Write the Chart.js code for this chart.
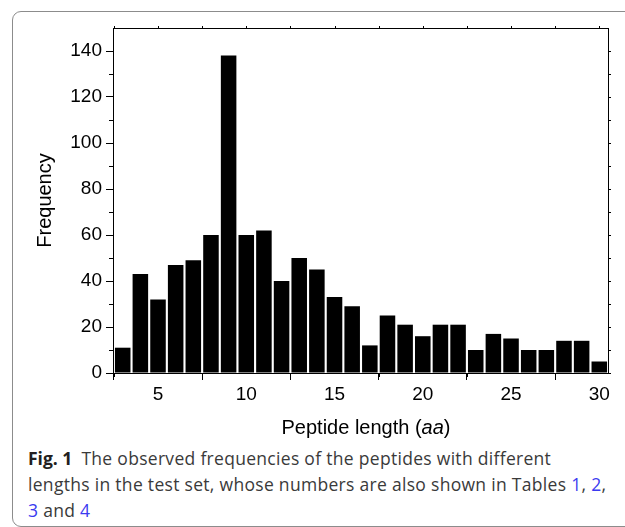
<!DOCTYPE html>
<html>
<head>
<meta charset="utf-8">
<script src="https://cdn.jsdelivr.net/npm/chart.js@4.4.1/dist/chart.umd.min.js"></script>
<style>
  html, body { margin: 0; padding: 0; background: #fff; width: 625px; height: 527px; overflow: hidden; }
  #frame { position: absolute; left: 12px; top: 11px; width: 640px; height: 516px; box-sizing: border-box;
           border: 1px solid #8c8c8c; border-radius: 9px; }
  #plot { position: absolute; left: 0; top: 0; width: 625px; height: 445px; }
  #caption { position: absolute; left: 28px; top: 445px; font-family: "Open Sans", Lato, sans-serif;
             font-size: 17.5px; letter-spacing: 0.3px; line-height: 26px; color: #3a3a3a; white-space: nowrap; }
  #caption b { font-weight: 700; color: #231f20; letter-spacing: 0; margin-right: 9px; }
  #caption .ref { color: #3b3bf0; }
</style>
</head>
<body>
<div id="frame"></div>
<div id="plot"><canvas id="chart" width="625" height="445"></canvas></div>
<div id="caption"><b>Fig. 1</b>The observed frequencies of the peptides with different<br>lengths in the test set, whose numbers are also shown in Tables <span class="ref">1</span>, <span class="ref">2</span>,<br><span class="ref">3</span> and <span class="ref">4</span></div>
<script>
// Peptide length (aa) and how often each length occurs in the test set
const peptideLengths = [3, 4, 5, 6, 7, 8, 9, 10, 11, 12, 13, 14, 15, 16, 17, 18, 19, 20, 21, 22, 23, 24, 25, 26, 27, 28, 29, 30];
const frequencies    = [11, 43, 32, 47, 49, 60, 138, 60, 62, 40, 50, 45, 33, 29, 12, 25, 21, 16, 21, 21, 10, 17, 15, 10, 10, 14, 14, 5];

// Axis ticks
const xTickValues  = [5, 10, 15, 20, 25, 30];
const xMinorValues = [2.5, 7.5, 12.5, 17.5, 22.5, 27.5];
const yTickValues  = [0, 20, 40, 60, 80, 100, 120, 140];
const yMinorValues = [10, 30, 50, 70, 90, 110, 130];

const axisFont = { family: '"Liberation Sans", Arial, sans-serif', size: 19 };
const titleFontSize = 20;

// Minor ticks, the closed frame and the axis titles
const frameAndTitles = {
  id: 'frameAndTitles',
  afterDraw(chart) {
    const { ctx, chartArea: a, scales: { x, y } } = chart;
    ctx.save();
    ctx.strokeStyle = '#000';
    ctx.lineWidth = 1;
    ctx.beginPath();
    // top and right sides of the frame
    ctx.moveTo(a.left, a.top + 0.5); ctx.lineTo(a.right, a.top + 0.5);
    ctx.moveTo(a.right - 0.5, a.top); ctx.lineTo(a.right - 0.5, a.bottom);
    // minor ticks on bottom, major+minor marks on top
    xMinorValues.forEach(v => {
      const px = Math.round(x.getPixelForValue(v)) + 0.5;
      ctx.moveTo(px, a.bottom); ctx.lineTo(px, a.bottom + 4);
    });
    xTickValues.concat(xMinorValues).forEach(v => {
      const px = Math.round(x.getPixelForValue(v)) + 0.5;
      ctx.moveTo(px, a.top); ctx.lineTo(px, a.top - 2);
    });
    // minor ticks on left, major+minor marks on right
    yMinorValues.forEach(v => {
      const py = Math.round(y.getPixelForValue(v)) + 0.5;
      ctx.moveTo(a.left, py); ctx.lineTo(a.left - 4, py);
    });
    yTickValues.concat(yMinorValues).forEach(v => {
      const py = Math.round(y.getPixelForValue(v)) + 0.5;
      ctx.moveTo(a.right, py); ctx.lineTo(a.right + 2, py);
    });
    ctx.stroke();

    // axis titles
    ctx.fillStyle = '#000';
    ctx.textBaseline = 'middle';
    const regular = titleFontSize + 'px "Liberation Sans", Arial, sans-serif';
    const italic = 'italic ' + regular;
    const parts = [['Peptide length (', regular], ['aa', italic], [')', regular]];
    let total = 0;
    parts.forEach(p => { ctx.font = p[1]; total += ctx.measureText(p[0]).width; });
    let cx = (a.left + a.right) / 2 + 5 - total / 2;
    ctx.textAlign = 'left';
    parts.forEach(p => { ctx.font = p[1]; ctx.fillText(p[0], cx, 428); cx += ctx.measureText(p[0]).width; });

    ctx.translate(45, (a.top + a.bottom) / 2);
    ctx.rotate(-Math.PI / 2);
    ctx.font = regular;
    ctx.textAlign = 'center';
    ctx.fillText('Frequency', 0, 0);
    ctx.restore();
  }
};

new Chart(document.getElementById('chart'), {
  type: 'bar',
  data: {
    datasets: [{
      data: peptideLengths.map((len, i) => ({ x: len, y: frequencies[i] })),
      backgroundColor: '#000',
      borderWidth: 0,
      barPercentage: 0.88,
      categoryPercentage: 1
    }]
  },
  options: {
    responsive: false,
    animation: false,
    layout: { padding: { left: 0, top: 28, right: 16, bottom: 0 } },
    plugins: { legend: { display: false }, tooltip: { enabled: false } },
    scales: {
      x: {
        type: 'linear',
        min: 2.45,
        max: 30.55,
        offset: false,
        afterBuildTicks: s => { s.ticks = xTickValues.map(v => ({ value: v })); },
        afterFit: s => { s.height = 445 - 373; },
        grid: { drawOnChartArea: false, drawTicks: true, tickLength: 7, color: '#000' },
        border: { display: true, color: '#000', width: 1 },
        ticks: { color: '#000', font: axisFont, padding: 3, maxRotation: 0, autoSkip: false }
      },
      y: {
        min: 0,
        max: 150,
        afterBuildTicks: s => { s.ticks = yTickValues.map(v => ({ value: v })); },
        afterFit: s => { s.width = 113; },
        grid: { drawOnChartArea: false, drawTicks: true, tickLength: 7, color: '#000' },
        border: { display: true, color: '#000', width: 1 },
        ticks: { color: '#000', font: axisFont, padding: 4 }
      }
    }
  },
  plugins: [frameAndTitles]
});
</script>
</body>
</html>
